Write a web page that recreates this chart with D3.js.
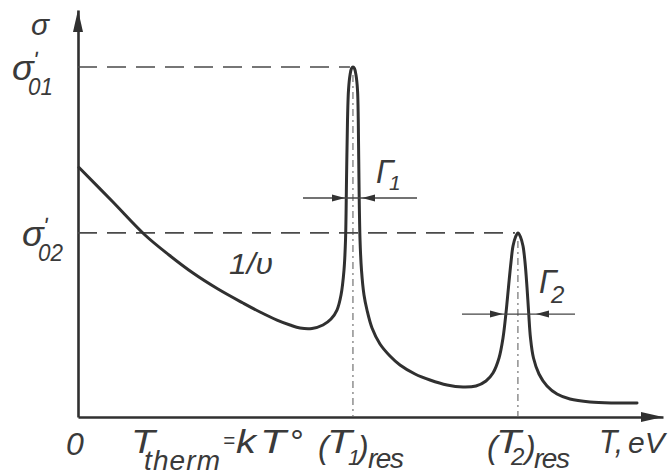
<!DOCTYPE html>
<html>
<head>
<meta charset="utf-8">
<script src="https://cdn.jsdelivr.net/npm/d3@7"></script>
<style>
  html, body { margin: 0; padding: 0; background: #fff; }
  svg { display: block; }
  text { font-family: "Liberation Sans", "DejaVu Sans", sans-serif; font-style: italic; fill: #3a3a3a; }
</style>
</head>
<body>
<svg id="chart" width="669" height="476"></svg>
<script>
// Neutron energy along the curve (arbitrary units, axis runs 0..100)
const energy = [
  0.17, 5.81, 11.45, 15.56, 19.66, 23.93, 28.21, 31.11, 34.02, 36.24, 37.95, 40.0,
  41.88, 43.25, 44.27, 44.96, 45.47, 45.73, 45.9, 46.07, 46.24, 46.5, 46.75, 47.01,
  47.26, 47.52, 47.78, 47.91, 48.03, 48.21, 48.46, 48.89, 49.4, 50.26, 51.62, 53.33,
  55.04, 57.61, 60.17, 63.08, 65.81, 68.03, 69.74, 70.94, 71.97, 72.65, 73.16, 73.59,
  74.02, 74.36, 74.79, 75.21, 75.64, 76.07, 76.41, 76.75, 77.04, 77.35, 77.86, 78.8,
  80.17, 81.88, 84.1, 87.52, 91.28, 95.56
];
// Cross section at each energy (σ01 = 100)
const sigma = [
  71.29, 61.71, 52.0, 46.29, 41.14, 36.57, 32.57, 30.0, 27.71, 26.29, 25.43, 25.29,
  26.29, 28.0, 30.57, 34.86, 42.0, 50.57, 67.71, 84.86, 93.43, 97.71, 99.57, 100,
  99.57, 97.71, 93.43, 84.86, 67.71, 50.57, 42.0, 34.86, 30.57, 25.43, 20.86, 17.43,
  14.86, 12.29, 10.57, 9.14, 8.57, 8.86, 10.29, 12.57, 16.86, 22.57, 29.71, 37.14,
  44.29, 48.86, 51.43, 52.6, 51.43, 48.86, 44.29, 37.14, 29.71, 22.57, 16.86, 12.29,
  8.86, 6.57, 5.14, 4.29, 4.0, 4.0
];

// Resonances: position, peak value, level of the width arrows
const resonanceEnergy = [47.0, 75.2];
const resonancePeak = [100, 52.6];
const widthLevel = [62.6, 29.4];
// Width arrows: shaft ends and arrow tips (energy units)
const widthShaftFrom = [38.46, 65.64];
const widthShaftTo = [57.95, 84.96];
const widthTipLeft = [45.64, 72.65];
const widthTipRight = [48.55, 78.29];
const widthIndex = ["1", "2"];
const peakIndex = ["01", "02"];

const svg = d3.select("#chart");
const ink = "#303030";

const x = d3.scaleLinear().domain([0, 100]).range([78, 663]);
const y = d3.scaleLinear().domain([0, 116.3]).range([417, 10]);

// Axes: plain lines with arrowheads, no ticks
svg.append("g").attr("transform", `translate(0,${y(0)})`)
  .call(d3.axisBottom(x).tickValues([]).tickSizeOuter(0));
svg.append("g").attr("transform", `translate(${x(0)},0)`)
  .call(d3.axisLeft(y).tickValues([]).tickSizeOuter(0));
svg.selectAll(".domain").attr("stroke", ink).attr("stroke-width", 2.6);

svg.append("path")
  .attr("d", `M${x(100)},${y(0)} L${x(100) - 22},${y(0) - 5} L${x(100) - 22},${y(0) + 5} Z`)
  .attr("fill", ink);
svg.append("path")
  .attr("d", `M${x(0)},${y(116.3)} L${x(0) - 5},${y(116.3) + 22} L${x(0) + 5},${y(116.3) + 22} Z`)
  .attr("fill", ink);

// Reference levels σ01, σ02 and the resonance energy markers
resonancePeak.forEach((p, i) => {
  svg.append("line")
    .attr("x1", x(0)).attr("x2", x(resonanceEnergy[i]) - 3)
    .attr("y1", y(p)).attr("y2", y(p))
    .attr("stroke", "#4a4a4a").attr("stroke-width", 1.6)
    .attr("stroke-dasharray", "19,10");
  svg.append("line")
    .attr("x1", x(resonanceEnergy[i])).attr("x2", x(resonanceEnergy[i]))
    .attr("y1", y(p) + 8).attr("y2", y(0))
    .attr("stroke", "#666").attr("stroke-width", 1.1)
    .attr("stroke-dasharray", "7,4,2,4");
});

// Cross-section curve
const pts = energy.map((e, i) => [e, sigma[i]]);
svg.append("path")
  .datum(pts)
  .attr("d", d3.line().x(d => x(d[0])).y(d => y(d[1])).curve(d3.curveCatmullRom.alpha(0.5)))
  .attr("fill", "none").attr("stroke", ink).attr("stroke-width", 3)
  .attr("stroke-linejoin", "round").attr("stroke-linecap", "round");

// Resonance width arrows Γ1, Γ2
resonanceEnergy.forEach((r, i) => {
  const yy = y(widthLevel[i]);
  svg.append("line")
    .attr("x1", x(widthShaftFrom[i])).attr("x2", x(widthShaftTo[i]))
    .attr("y1", yy).attr("y2", yy)
    .attr("stroke", "#444").attr("stroke-width", 1.4);
  const tl = x(widthTipLeft[i]), tr = x(widthTipRight[i]);
  svg.append("path")
    .attr("d", `M${tl},${yy} L${tl - 13},${yy - 3.5} L${tl - 13},${yy + 3.5} Z`)
    .attr("fill", "#333");
  svg.append("path")
    .attr("d", `M${tr},${yy} L${tr + 13},${yy - 3.5} L${tr + 13},${yy + 3.5} Z`)
    .attr("fill", "#333");
  const gx = i ? 539 : 376, gy = i ? 293 : 183;
  svg.append("text").attr("x", gx).attr("y", gy).attr("font-size", 33)
    .attr("textLength", 18).attr("lengthAdjust", "spacingAndGlyphs").text("Γ");
  svg.append("text").attr("x", gx + (i ? 12 : 13)).attr("y", gy + (i ? 10 : 7))
    .attr("font-size", i ? 24 : 21).text(widthIndex[i]);
});

// 1/v label
svg.append("text").attr("x", 229).attr("y", 274).attr("font-size", 30)
  .attr("textLength", 44).attr("lengthAdjust", "spacingAndGlyphs").text("1/υ");

// Y labels
svg.append("text").attr("x", 31).attr("y", 35).attr("font-size", 30).text("σ");
resonancePeak.forEach((p, i) => {
  const yy = y(p);
  const x0 = i ? 22 : 12;
  svg.append("text").attr("x", x0).attr("y", yy + 13).attr("font-size", 36).text("σ");
  svg.append("text").attr("x", x0 + 21).attr("y", yy + 1).attr("font-size", 24).text("ʹ");
  svg.append("text").attr("x", x0 + 16).attr("y", yy + 28).attr("font-size", 23)
    .attr("textLength", 25).attr("lengthAdjust", "spacingAndGlyphs").text(peakIndex[i]);
});

// X labels
const base = 453;
svg.append("text").attr("x", 66).attr("y", base + 2).attr("font-size", 32).text("0");

svg.append("text").attr("x", 131).attr("y", base).attr("font-size", 33)
  .attr("textLength", 24).attr("lengthAdjust", "spacingAndGlyphs").text("T");
svg.append("text").attr("x", 144).attr("y", base + 17).attr("font-size", 28)
  .attr("textLength", 76).attr("lengthAdjust", "spacing").text("therm");
svg.append("text").attr("x", 223).attr("y", base - 5).attr("font-size", 22)
  .attr("textLength", 12).attr("lengthAdjust", "spacingAndGlyphs").text("=");
svg.append("text").attr("x", 236).attr("y", base).attr("font-size", 34)
  .attr("textLength", 20).attr("lengthAdjust", "spacingAndGlyphs").text("k");
svg.append("text").attr("x", 260).attr("y", base).attr("font-size", 33)
  .attr("textLength", 26).attr("lengthAdjust", "spacingAndGlyphs").text("T");
svg.append("text").attr("x", 289).attr("y", base).attr("font-size", 34).text("°");

resonanceEnergy.forEach((r, i) => {
  const x0 = x(r) - (i ? 31 : 35);
  svg.append("text").attr("x", x0).attr("y", base + 5).attr("font-size", 32).text("(");
  svg.append("text").attr("x", x0 + 9).attr("y", base).attr("font-size", 33)
    .attr("textLength", 25).attr("lengthAdjust", "spacingAndGlyphs").text("T");
  svg.append("text").attr("x", x0 + (i ? 24 : 30)).attr("y", base + 12)
    .attr("font-size", i ? 24 : 22).text(widthIndex[i]);
  svg.append("text").attr("x", x0 + (i ? 38 : 40)).attr("y", base + 5).attr("font-size", 32).text(")");
  svg.append("text").attr("x", x0 + (i ? 47 : 50)).attr("y", base + 15).attr("font-size", 28)
    .attr("textLength", 36).attr("lengthAdjust", "spacing").text("res");
});

svg.append("text").attr("x", 599).attr("y", base).attr("font-size", 33)
  .attr("textLength", 24).attr("lengthAdjust", "spacingAndGlyphs").text("T,");
svg.append("text").attr("x", 628).attr("y", base).attr("font-size", 30).text("eV");
</script>
</body>
</html>
